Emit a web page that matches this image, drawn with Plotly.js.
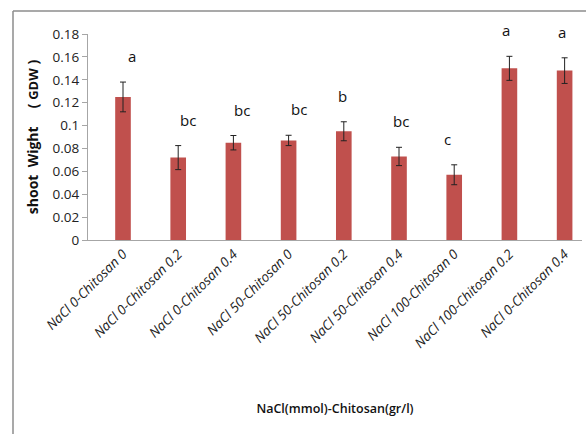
<!DOCTYPE html>
<html>
<head>
<meta charset="utf-8">
<script src="https://cdn.plot.ly/plotly-3.0.1.min.js"></script>
<style>html,body{margin:0;padding:0;background:#fff;}#chart{width:586px;height:434px;}</style>
</head>
<body>
<div id="chart"></div>
<script>
// ---- data ----
const categories = [
  "NaCl 0-Chitosan 0", "NaCl 0-Chitosan 0.2", "NaCl 0-Chitosan 0.4",
  "NaCl 50-Chitosan 0", "NaCl 50-Chitosan 0.2", "NaCl 50-Chitosan 0.4",
  "NaCl 100-Chitosan 0", "NaCl 100-Chitosan 0.2", "NaCl 0-Chitosan 0.4"
];
const shootWeight = [0.125, 0.072, 0.085, 0.087, 0.095, 0.073, 0.057, 0.150, 0.148];
const stdError    = [0.013, 0.0105, 0.0063, 0.0045, 0.0083, 0.008, 0.0087, 0.0105, 0.0112];
const groupLetters = ["a", "bc", "bc", "bc", "b", "bc", "c", "a", "a"];
const yTickValues = [0, 0.02, 0.04, 0.06, 0.08, 0.1, 0.12, 0.14, 0.16, 0.18];

// ---- layout helpers (pixels) ----
const W = 586, H = 434;
const M = {l: 88, r: 4, t: 34, b: 194};
const PW = W - M.l - M.r, PH = H - M.t - M.b;
const px2x = p => (p - M.l) / PW;
const px2y = p => (H - M.b - p) / PH;
const letterXShift = [9, 10, 9, 10, -1, 2, -7, -3, -3];

const trace = {
  type: "bar",
  x: categories.map((c, i) => i),
  y: shootWeight,
  marker: {color: "#C0504D"},
  error_y: {type: "data", array: stdError, visible: true, color: "#222", thickness: 1, width: 3},
  hoverinfo: "skip"
};

const annotations = groupLetters.map((t, i) => ({
  x: i, y: shootWeight[i] + stdError[i], xref: "x", yref: "y",
  text: t, showarrow: false, yanchor: "bottom", yshift: 14, xshift: letterXShift[i],
  font: {family: "Open Sans", size: 15, color: "#111"}
}));

const gray = "#8c8c8c";
const shapes = [
  {type: "line", xref: "paper", yref: "paper", x0: px2x(13), x1: px2x(13), y0: px2y(11), y1: px2y(434),
   line: {color: gray, width: 1.5}},
  {type: "line", xref: "paper", yref: "paper", x0: px2x(13), x1: px2x(586), y0: px2y(11), y1: px2y(11),
   line: {color: gray, width: 1.5}}
];

const layout = {
  width: W, height: H,
  margin: M,
  paper_bgcolor: "#fff", plot_bgcolor: "#fff",
  showlegend: false,
  bargap: 0.717,
  xaxis: {
    type: "linear",
    range: [-0.634, 8.315],
    tickvals: categories.map((c, i) => i),
    ticktext: categories,
    tickangle: -45,
    showline: true, linecolor: "#a6a6a6", linewidth: 1,
    ticks: "", showgrid: false, zeroline: false,
    tickfont: {family: "Open Sans", size: 13.5, color: "#222", style: "italic"},
    title: {text: "NaCl(mmol)-Chitosan(gr/l)", font: {family: "Open Sans", size: 12.5, color: "#111", weight: 600}, standoff: 53},
    automargin: false
  },
  yaxis: {
    range: [0, 0.18],
    tickvals: yTickValues,
    ticks: "outside", ticklen: 5, tickcolor: "#a6a6a6",
    showline: true, linecolor: "#a6a6a6", linewidth: 1,
    showgrid: false, zeroline: false,
    tickfont: {family: "Open Sans", size: 13.5, color: "#222"},
    title: {text: "shoot\u00a0 Wight\u00a0\u00a0\u00a0\u00a0 (\u00a0<span style='font-size:13px'>GDW</span>\u00a0)", font: {family: "Open Sans", size: 14, color: "#111", weight: "bold"}, standoff: 10},
    automargin: false
  },
  annotations: annotations,
  shapes: shapes
};

Plotly.newPlot("chart", [trace], layout, {displayModeBar: false, staticPlot: true});
</script>
</body>
</html>
